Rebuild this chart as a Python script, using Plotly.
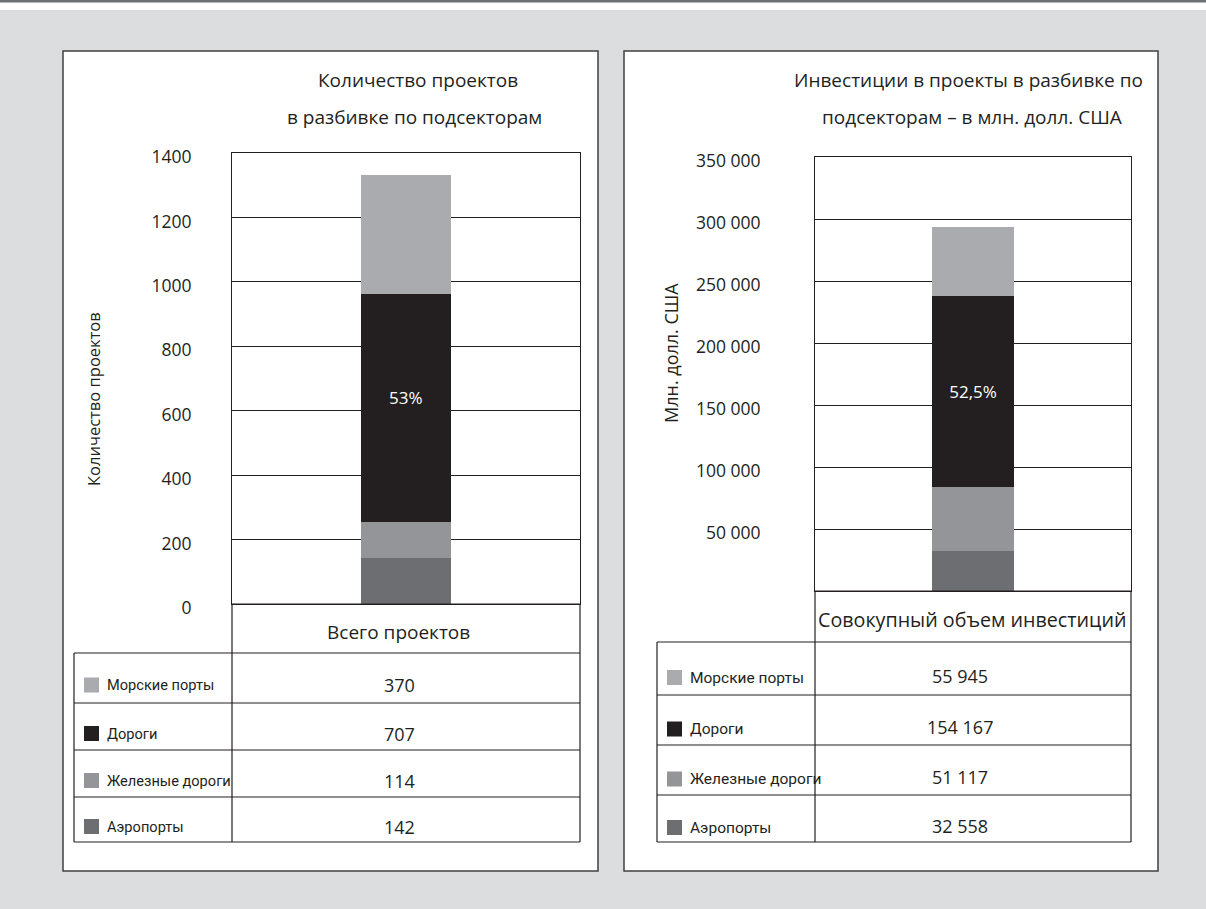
import plotly.graph_objects as go

W, H = 1206, 909

# ---------------- data ----------------
sectors = ["Аэропорты", "Железные дороги", "Дороги", "Морские порты"]   # bottom -> top
sector_colors = ["#6d6e71", "#939598", "#231f20", "#a9abae"]
projects = [142, 114, 707, 370]
investments = [32558, 51117, 154167, 55945]
category_left = ["Всего проектов"]
category_right = ["Совокупный объем инвестиций"]
share_left = {"Дороги": "53%"}
share_right = {"Дороги": "52,5%"}
ticks_left = [0, 200, 400, 600, 800, 1000, 1200, 1400]
ticks_right = [50000, 100000, 150000, 200000, 250000, 300000, 350000]
title_left = ["Количество проектов", "в разбивке по подсекторам"]
title_right = ["Инвестиции в проекты в разбивке по", "подсекторам – в млн. долл. США"]
ytitle_left = "Количество проектов"
ytitle_right = "Млн. долл. США"

FONT = "Open Sans, Noto Sans, sans-serif"
NARROW = "Roboto, sans-serif"
INK = "#231f20"
BG = "#dcdddf"


def fmt(v):
    return f"{v:,}".replace(",", " ")


def px(x):
    return x / W


def py(y):
    return 1 - y / H


fig = go.Figure()

for i, s in enumerate(sectors):
    fig.add_trace(go.Bar(
        x=category_left, y=[projects[i]], name=s, marker_color=sector_colors[i],
        marker_line_width=0, width=0.26, xaxis="x", yaxis="y", showlegend=False,
        hoverinfo="skip"))
    fig.add_trace(go.Bar(
        x=category_right, y=[investments[i]], name=s, marker_color=sector_colors[i],
        marker_line_width=0, width=0.26, xaxis="x2", yaxis="y2",
        text=[share_right.get(s, "")], textposition="inside", insidetextanchor="middle",
        textfont=dict(color="white", size=17, family=FONT), showlegend=False,
        hoverinfo="skip"))

# geometry (pixels)
L = dict(pl=232, pr=580, pt=153, pb=604, tl=74, rows=[604, 653, 703, 750, 797, 842],
         panel=(63, 51, 598, 871), val_x=399, cat_x=398, cat_size=19, label_dy=7, val_dy=7,
         label_size=14.6, title_x=[418, 414], ytitle=(93, 399), ytitle_size=16.5)
R = dict(pl=815, pr=1131, pt=157, pb=591, tl=657, rows=[591, 642, 695, 745, 795, 842],
         panel=(624, 51, 1158, 871), val_x=960, cat_x=972, cat_size=19.7, label_dy=9,
         val_dy=7, label_size=15.5, title_x=[968, 972], ytitle=(671, 353), ytitle_size=18)

axis_common = dict(showline=True, mirror=True, linecolor=INK, linewidth=1)
fig.update_layout(
    width=W, height=H, margin=dict(l=0, r=0, t=0, b=0, pad=0, autoexpand=False),
    paper_bgcolor=BG, plot_bgcolor="white", barmode="stack", bargap=0,
    font=dict(family=FONT, size=17, color=INK),
    xaxis=dict(domain=[px(L["pl"]), px(L["pr"])], showticklabels=False, ticks="",
               showgrid=False, automargin=False, **axis_common),
    yaxis=dict(domain=[py(L["pb"]), py(L["pt"])], range=[0, 1400], tickvals=ticks_left,
               ticktext=[str(t) for t in ticks_left], showgrid=True, gridcolor=INK,
               gridwidth=1, zeroline=False, ticks="", ticklabelstandoff=36,
               ticklabelshift=4, automargin=False,
               tickfont=dict(size=17.5, family=FONT, color=INK), **axis_common),
    xaxis2=dict(domain=[px(R["pl"]), px(R["pr"])], showticklabels=False, ticks="",
                showgrid=False, anchor="y2", automargin=False, **axis_common),
    yaxis2=dict(domain=[py(R["pb"]), py(R["pt"])], range=[0, 350000], tickvals=ticks_right,
                ticktext=[fmt(t) for t in ticks_right], showgrid=True, gridcolor=INK,
                gridwidth=1, zeroline=False, ticks="", ticklabelstandoff=50,
                ticklabelshift=4, anchor="x2", automargin=False,
                tickfont=dict(size=17.5, family=FONT, color=INK), **axis_common),
)

shapes = []
# page header strip
shapes.append(dict(type="rect", xref="paper", yref="paper", x0=-0.1, x1=1.1, y0=py(10), y1=1.1,
                   fillcolor="white", line_width=0, layer="below"))
shapes.append(dict(type="rect", xref="paper", yref="paper", x0=-0.1, x1=1.1, y0=py(2.5), y1=1.1,
                   fillcolor="#6d6e71", line_width=0, layer="below"))
annotations = []

# share label on the left bar (segment "Дороги"), placed in data coordinates
k_road = sectors.index("Дороги")
annotations.append(dict(xref="x", yref="y", x=category_left[0],
                        y=sum(projects[:k_road]) + projects[k_road] / 2, yshift=10,
                        text=share_left["Дороги"], showarrow=False,
                        font=dict(color="white", size=17, family=FONT)))

for G, values, cats, vals_fmt in [(L, projects, category_left, str),
                                  (R, investments, category_right, fmt)]:
    x0, y0, x1, y1 = G["panel"]
    shapes.append(dict(type="rect", xref="paper", yref="paper", x0=px(x0), x1=px(x1),
                       y0=py(y1), y1=py(y0), fillcolor="white",
                       line=dict(color="#404041", width=1.5), layer="below"))
    rows = G["rows"]
    lc = dict(color=INK, width=1.2)
    shapes.append(dict(type="line", xref="paper", yref="paper", x0=px(G["pl"]), x1=px(G["pr"]),
                       y0=py(rows[0]), y1=py(rows[0]), line=lc))
    for r in rows[1:]:
        shapes.append(dict(type="line", xref="paper", yref="paper", x0=px(G["tl"]), x1=px(G["pr"]),
                           y0=py(r), y1=py(r), line=lc))
    for xx, ya in [(G["tl"], rows[1]), (G["pl"], rows[0]), (G["pr"], rows[0])]:
        shapes.append(dict(type="line", xref="paper", yref="paper", x0=px(xx), x1=px(xx),
                           y0=py(ya), y1=py(rows[-1]), line=lc))
    annotations.append(dict(xref="paper", yref="paper", x=px(G["cat_x"]),
                            y=py((rows[0] + rows[1]) / 2 + 3), text=cats[0], showarrow=False,
                            xanchor="center", yanchor="middle", font=dict(size=G["cat_size"])))
    order = list(range(len(sectors)))[::-1]
    for k, i in enumerate(order):
        top, bot = rows[k + 1], rows[k + 2]
        cy = (top + bot) / 2
        shapes.append(dict(type="rect", xref="paper", yref="paper",
                           x0=px(G["tl"] + 10), x1=px(G["tl"] + 25),
                           y0=py(cy + G["label_dy"] + 7.5), y1=py(cy + G["label_dy"] - 7.5),
                           fillcolor=sector_colors[i], line_width=0))
        annotations.append(dict(xref="paper", yref="paper", x=px(G["tl"] + 31),
                                y=py(cy + G["label_dy"]), text=sectors[i], showarrow=False,
                                xanchor="left", yanchor="middle",
                                font=dict(size=G["label_size"], family=NARROW)))
        annotations.append(dict(xref="paper", yref="paper", x=px(G["val_x"]),
                                y=py(cy + G["val_dy"]), text=vals_fmt(values[i]),
                                showarrow=False, xanchor="center", yanchor="middle",
                                font=dict(size=18)))

for G, titles, ytitle in [(L, title_left, ytitle_left), (R, title_right, ytitle_right)]:
    for j, t in enumerate(titles):
        annotations.append(dict(xref="paper", yref="paper", x=px(G["title_x"][j]),
                                y=py(80 + 37 * j), text=t, showarrow=False,
                                xanchor="center", yanchor="middle", font=dict(size=19)))
    annotations.append(dict(xref="paper", yref="paper", x=px(G["ytitle"][0]),
                            y=py(G["ytitle"][1]), text=ytitle, showarrow=False,
                            textangle=-90, xanchor="center", yanchor="middle",
                            font=dict(size=G["ytitle_size"])))

fig.update_layout(shapes=shapes, annotations=annotations)

post = ("document.documentElement.style.margin='0';document.body.style.margin='0';"
        "document.documentElement.style.overflow='hidden';"
        "document.body.style.overflow='hidden';"
        "var d=document.getElementById('{plot_id}');"
        "d.style.position='fixed';d.style.top='0';d.style.left='0';")
fig.write_html("out.html", post_script=post, config={"displayModeBar": False})
